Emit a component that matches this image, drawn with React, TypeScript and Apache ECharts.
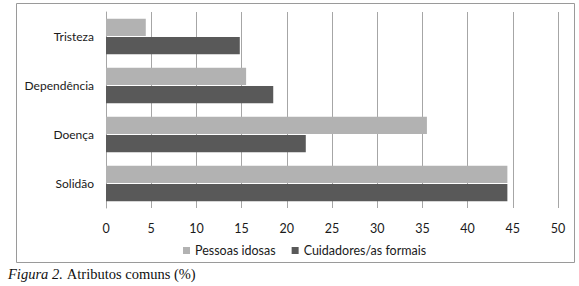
import React, { useEffect, useRef } from "react";
import * as echarts from "echarts";

const categories = ["Tristeza", "Dependência", "Doença", "Solidão"];
const pessoasIdosas = [4.4, 15.5, 35.5, 44.4];
const cuidadores = [14.8, 18.5, 22.1, 44.4];
const seriesNames = ["Pessoas idosas", "Cuidadores/as formais"];
const caption = ["Figura 2.", " Atributos comuns (%)"];

export default function App() {
  const ref = useRef<HTMLDivElement>(null);
  useEffect(() => {
    if (!ref.current) return;
    const chart = echarts.init(ref.current, undefined, { renderer: "svg" });
    const font = "Lato, 'Open Sans', sans-serif";
    chart.setOption({
      animation: false,
      backgroundColor: "#ffffff",
      grid: { left: 106, right: 21, top: 12, bottom: 78, containLabel: false },
      legend: {
        bottom: 24,
        left: 178,
        itemWidth: 7,
        itemHeight: 7,
        itemGap: 16,
        icon: "rect",
        textStyle: { fontFamily: font, fontSize: 12.5, color: "#1a1a1a" },
        data: seriesNames,
      },
      xAxis: {
        type: "value",
        min: 0,
        max: 50,
        interval: 5,
        axisLine: { show: false },
        axisTick: { show: false },
        splitLine: { show: true, lineStyle: { color: "#a6a6a6", width: 1 } },
        axisLabel: { fontFamily: font, fontSize: 12.5, color: "#1a1a1a", margin: 14 },
      },
      yAxis: {
        type: "category",
        inverse: true,
        data: categories,
        axisLine: { show: true, lineStyle: { color: "#a6a6a6" } },
        axisTick: { show: false },
        axisLabel: { fontFamily: font, fontSize: 12, color: "#1a1a1a", margin: 12 },
      },
      series: [
        {
          name: seriesNames[0],
          type: "bar",
          data: pessoasIdosas,
          itemStyle: { color: "#b2b2b2" },
          barCategoryGap: "28%",
          barGap: "6%",
        },
        {
          name: seriesNames[1],
          type: "bar",
          data: cuidadores,
          itemStyle: { color: "#595959" },
          barCategoryGap: "28%",
          barGap: "6%",
        },
      ],
      graphic: [
        {
          type: "rect",
          shape: { x: 16.5, y: 3.5, width: 558, height: 259 },
          style: { fill: "none", stroke: "#9a9a9a", lineWidth: 1 },
          silent: true,
        },
        {
          type: "text",
          left: 8,
          top: 266,
          style: {
            text: caption[0],
            font: "italic 14.5px 'Liberation Serif', 'Times New Roman', serif",
            fill: "#111",
          },
        },
        {
          type: "text",
          left: 64,
          top: 266,
          style: {
            text: caption[1],
            font: "14.5px 'Liberation Serif', 'Times New Roman', serif",
            fill: "#111",
          },
        },
      ],
    });
    return () => chart.dispose();
  }, []);
  return (
    <div
      ref={ref}
      style={{ position: "fixed", left: 0, top: 0, width: 579, height: 286 }}
    />
  );
}
